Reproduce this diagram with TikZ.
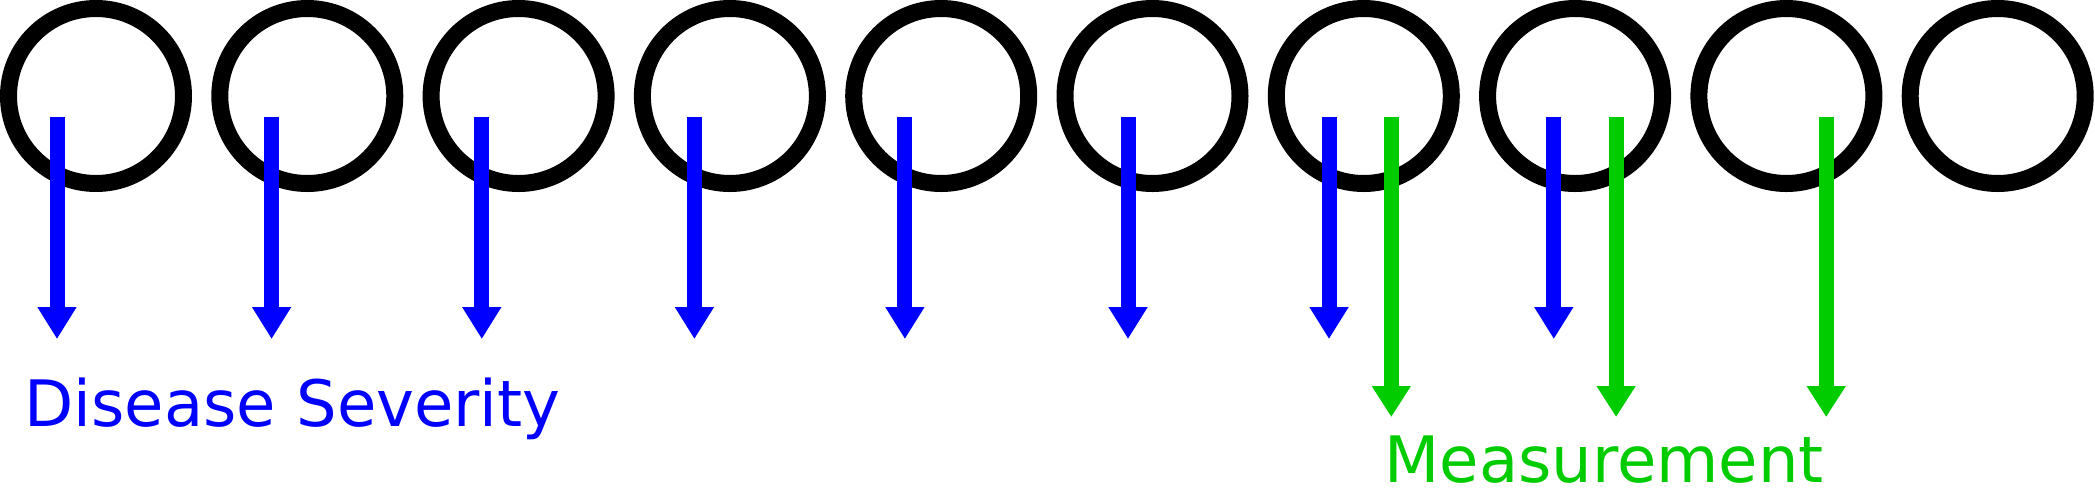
\documentclass[tikz,border=0pt]{standalone}
\usepackage{fontspec}
\setmainfont{DejaVu Sans}
\usepackage{xcolor}
\usepackage{tikz}
\usetikzlibrary{arrows.meta}
\definecolor{sevblue}{RGB}{0,0,255}
\definecolor{measgreen}{RGB}{0,204,0}

\begin{document}
\begin{tikzpicture}[x=0.5pt,y=-0.5pt,
  state/.style={draw,circle,line width=8.5pt,minimum size=87.5pt,inner sep=0pt},
  sev/.style={draw=sevblue,line width=7.5pt,-{Triangle[width=18.5pt,length=16pt]},sevblue},
  meas/.style={draw=measgreen,line width=7.5pt,-{Triangle[width=18.5pt,length=15.5pt]},measgreen},
  lab/.style={inner sep=0pt,anchor=base west,text depth=0pt,font=\fontsize{32}{38}\selectfont}]
\useasboundingbox (0,0) rectangle (2095,489);
\foreach \i in {1,...,10} \node[state] (c\i) at ({96+211.3*(\i-1)},96) {};
\foreach \i/\dx in {1/-39,2/-35.7,3/-36.8,4/-35.5,5/-36.3,6/-24.5,7/-34.8,8/-21.3}
  \draw[sev] ([xshift=\dx*0.5pt,yshift=-10.5pt]c\i.center) -- ++(0,222);
\foreach \i/\dx in {7/27.5,8/41,9/39.8}
  \draw[meas] ([xshift=\dx*0.5pt,yshift=-10.5pt]c\i.center) -- ++(0,300);
\node[lab,text=sevblue] (severity) at (24,426) {Disease Severity};
\node[lab,text=measgreen] (measurement) at (1384,482) {Measurement};
\end{tikzpicture}
\end{document}
